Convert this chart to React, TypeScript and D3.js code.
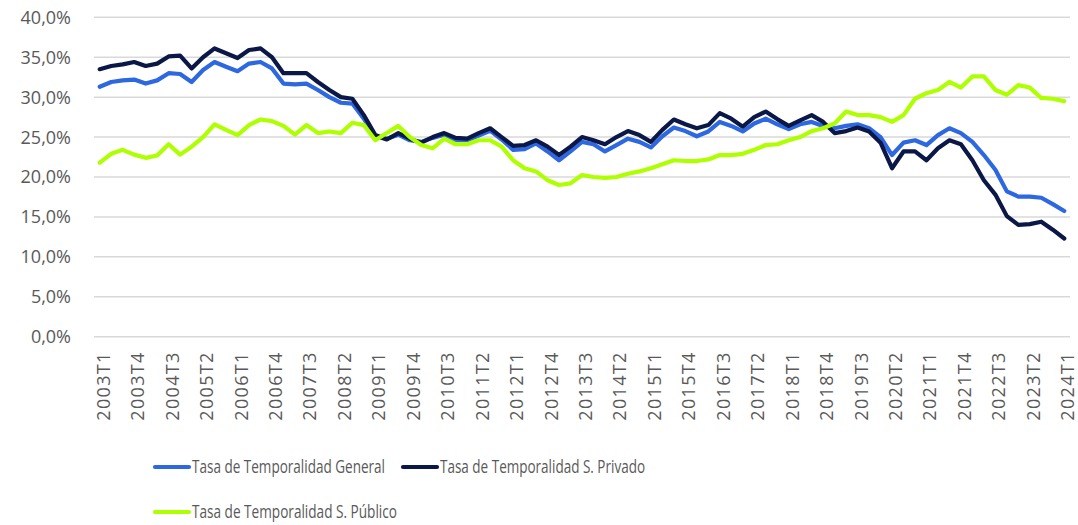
import React from "react";
import * as d3 from "d3";

const categories: string[] = [
  "2003T1","2003T2","2003T3","2003T4","2004T1","2004T2","2004T3","2004T4",
  "2005T1","2005T2","2005T3","2005T4","2006T1","2006T2","2006T3","2006T4",
  "2007T1","2007T2","2007T3","2007T4","2008T1","2008T2","2008T3","2008T4",
  "2009T1","2009T2","2009T3","2009T4","2010T1","2010T2","2010T3","2010T4",
  "2011T1","2011T2","2011T3","2011T4","2012T1","2012T2","2012T3","2012T4",
  "2013T1","2013T2","2013T3","2013T4","2014T1","2014T2","2014T3","2014T4",
  "2015T1","2015T2","2015T3","2015T4","2016T1","2016T2","2016T3","2016T4",
  "2017T1","2017T2","2017T3","2017T4","2018T1","2018T2","2018T3","2018T4",
  "2019T1","2019T2","2019T3","2019T4","2020T1","2020T2","2020T3","2020T4",
  "2021T1","2021T2","2021T3","2021T4","2022T1","2022T2","2022T3","2022T4",
  "2023T1","2023T2","2023T3","2023T4","2024T1",
];

const tickLabels: string[] = [
  "2003T1","2003T4","2004T3","2005T2","2006T1","2006T4","2007T3","2008T2",
  "2009T1","2009T4","2010T3","2011T2","2012T1","2012T4","2013T3","2014T2",
  "2015T1","2015T4","2016T3","2017T2","2018T1","2018T4","2019T3","2020T2",
  "2021T1","2021T4","2022T3","2023T2","2024T1",
];

const yTicks: number[] = [0, 5, 10, 15, 20, 25, 30, 35, 40];

const general: number[] = [
  31.3,31.9,32.1,32.2,31.7,32.1,33.0,32.9,31.9,33.4,34.4,33.8,33.25,34.2,34.4,33.6,
  31.7,31.6,31.7,30.9,30.0,29.3,29.2,27.3,25.0,24.8,25.3,24.6,24.4,24.9,25.3,24.6,
  24.6,25.2,25.8,24.7,23.4,23.5,24.2,23.2,22.1,23.2,24.4,24.1,23.2,24.0,24.8,24.4,
  23.7,25.1,26.2,25.75,25.1,25.7,26.9,26.4,25.7,26.7,27.3,26.6,26.0,26.6,26.9,26.4,
  26.1,26.4,26.6,26.1,25.0,22.75,24.3,24.6,24.0,25.25,26.1,25.5,24.4,22.75,20.9,18.2,
  17.55,17.55,17.4,16.6,15.75,
];

const privado: number[] = [
  33.5,33.9,34.1,34.4,33.9,34.2,35.1,35.2,33.6,35.0,36.1,35.5,34.9,35.9,36.1,35.0,
  33.0,33.0,33.0,31.9,30.9,30.0,29.8,27.75,25.25,24.7,25.5,24.8,24.3,25.0,25.5,24.9,
  24.8,25.5,26.1,25.0,23.9,24.0,24.6,23.8,22.75,23.8,25.0,24.6,24.1,25.0,25.75,25.25,
  24.4,25.9,27.2,26.6,26.1,26.5,28.0,27.3,26.3,27.5,28.2,27.25,26.4,27.1,27.75,26.9,
  25.5,25.75,26.2,25.7,24.3,21.1,23.2,23.2,22.1,23.6,24.6,24.1,22.1,19.6,17.8,15.1,
  14.0,14.1,14.4,13.4,12.3,
];

const publico: number[] = [
  21.8,22.9,23.4,22.8,22.4,22.7,24.1,22.8,23.8,25.0,26.6,25.9,25.25,26.5,27.2,27.0,
  26.4,25.3,26.5,25.5,25.7,25.5,26.8,26.5,24.6,25.5,26.4,25.0,24.0,23.6,24.8,24.1,
  24.1,24.6,24.6,23.8,22.1,21.1,20.7,19.6,19.0,19.2,20.25,20.0,19.9,20.0,20.4,20.7,
  21.1,21.6,22.1,22.0,22.0,22.2,22.75,22.75,22.9,23.4,24.0,24.1,24.6,25.0,25.75,26.1,
  26.7,28.2,27.75,27.75,27.5,26.9,27.75,29.8,30.5,30.9,31.9,31.2,32.6,32.6,30.9,30.3,
  31.5,31.2,29.9,29.8,29.5,
];

const seriesNames: string[] = [
  "Tasa de Temporalidad General",
  "Tasa de Temporalidad S. Privado",
  "Tasa de Temporalidad S. Público",
];
const seriesColors: string[] = ["#2D68E0", "#0A1747", "#AEFF00"];

const W = 1078;
const H = 525;
const plotLeft = 94;
const plotRight = 1070;
const plotTop = 17.3;
const plotBottom = 336.7;
const textColor = "#595959";
const axisFont = "'Open Sans', 'Noto Sans', sans-serif";
const legendFont = "'Open Sans', 'Noto Sans', sans-serif";

export default function App() {
  const x = d3.scaleBand<string>().domain(categories).range([plotLeft, plotRight]).padding(0);
  const y = d3.scaleLinear().domain([0, 40]).range([plotBottom, plotTop]);
  const cx = (c: string) => (x(c) as number) + x.bandwidth() / 2;

  const allSeries = [general, privado, publico];
  const line = d3
    .line<number>()
    .x((_, i) => cx(categories[i]))
    .y((d) => y(d));

  const fmt = (v: number) => v.toFixed(1).replace(".", ",") + "%";

  const legendItems = [
    { lx: 155, ly: 467, tw: 193 },
    { lx: 403, ly: 467, tw: 205 },
    { lx: 155, ly: 512, tw: 205 },
  ];

  return (
    <svg
      width={W}
      height={H}
      style={{ position: "absolute", left: 0, top: 0, background: "#fff" }}
    >
      {yTicks.map((t) => (
        <g key={t}>
          <line
            x1={plotLeft}
            x2={plotRight}
            y1={y(t)}
            y2={y(t)}
            stroke="#d9d9d9"
            strokeWidth={1.5}
          />
          <text
            x={71}
            y={y(t)}
            dy="0.36em"
            textAnchor="end"
            fontFamily={axisFont}
            fontSize={18}
            fill={textColor}
          >
            {fmt(t)}
          </text>
        </g>
      ))}
      {tickLabels.map((c) => (
        <text
          key={c}
          transform={`translate(${cx(c) + 10},${plotBottom + 16}) rotate(-90)`}
          textAnchor="end"
          fontFamily={axisFont}
          fontSize={18}
          fill={textColor}
          textLength={68}
          lengthAdjust="spacing"
        >
          {c}
        </text>
      ))}
      {allSeries.map((s, k) => (
        <path
          key={k}
          d={line(s) || ""}
          fill="none"
          stroke={seriesColors[k]}
          strokeWidth={4.2}
          strokeLinejoin="round"
          strokeLinecap="round"
        />
      ))}
      {legendItems.map((it, k) => (
        <g key={k}>
          <line
            x1={it.lx}
            x2={it.lx + 34}
            y1={it.ly}
            y2={it.ly}
            stroke={seriesColors[k]}
            strokeWidth={4.2}
            strokeLinecap="round"
          />
          <text
            x={it.lx + 37}
            y={it.ly}
            dy="0.35em"
            fontFamily={legendFont}
            fontSize={18}
            fill={textColor}
            textLength={it.tw}
            lengthAdjust="spacingAndGlyphs"
          >
            {seriesNames[k]}
          </text>
        </g>
      ))}
    </svg>
  );
}
